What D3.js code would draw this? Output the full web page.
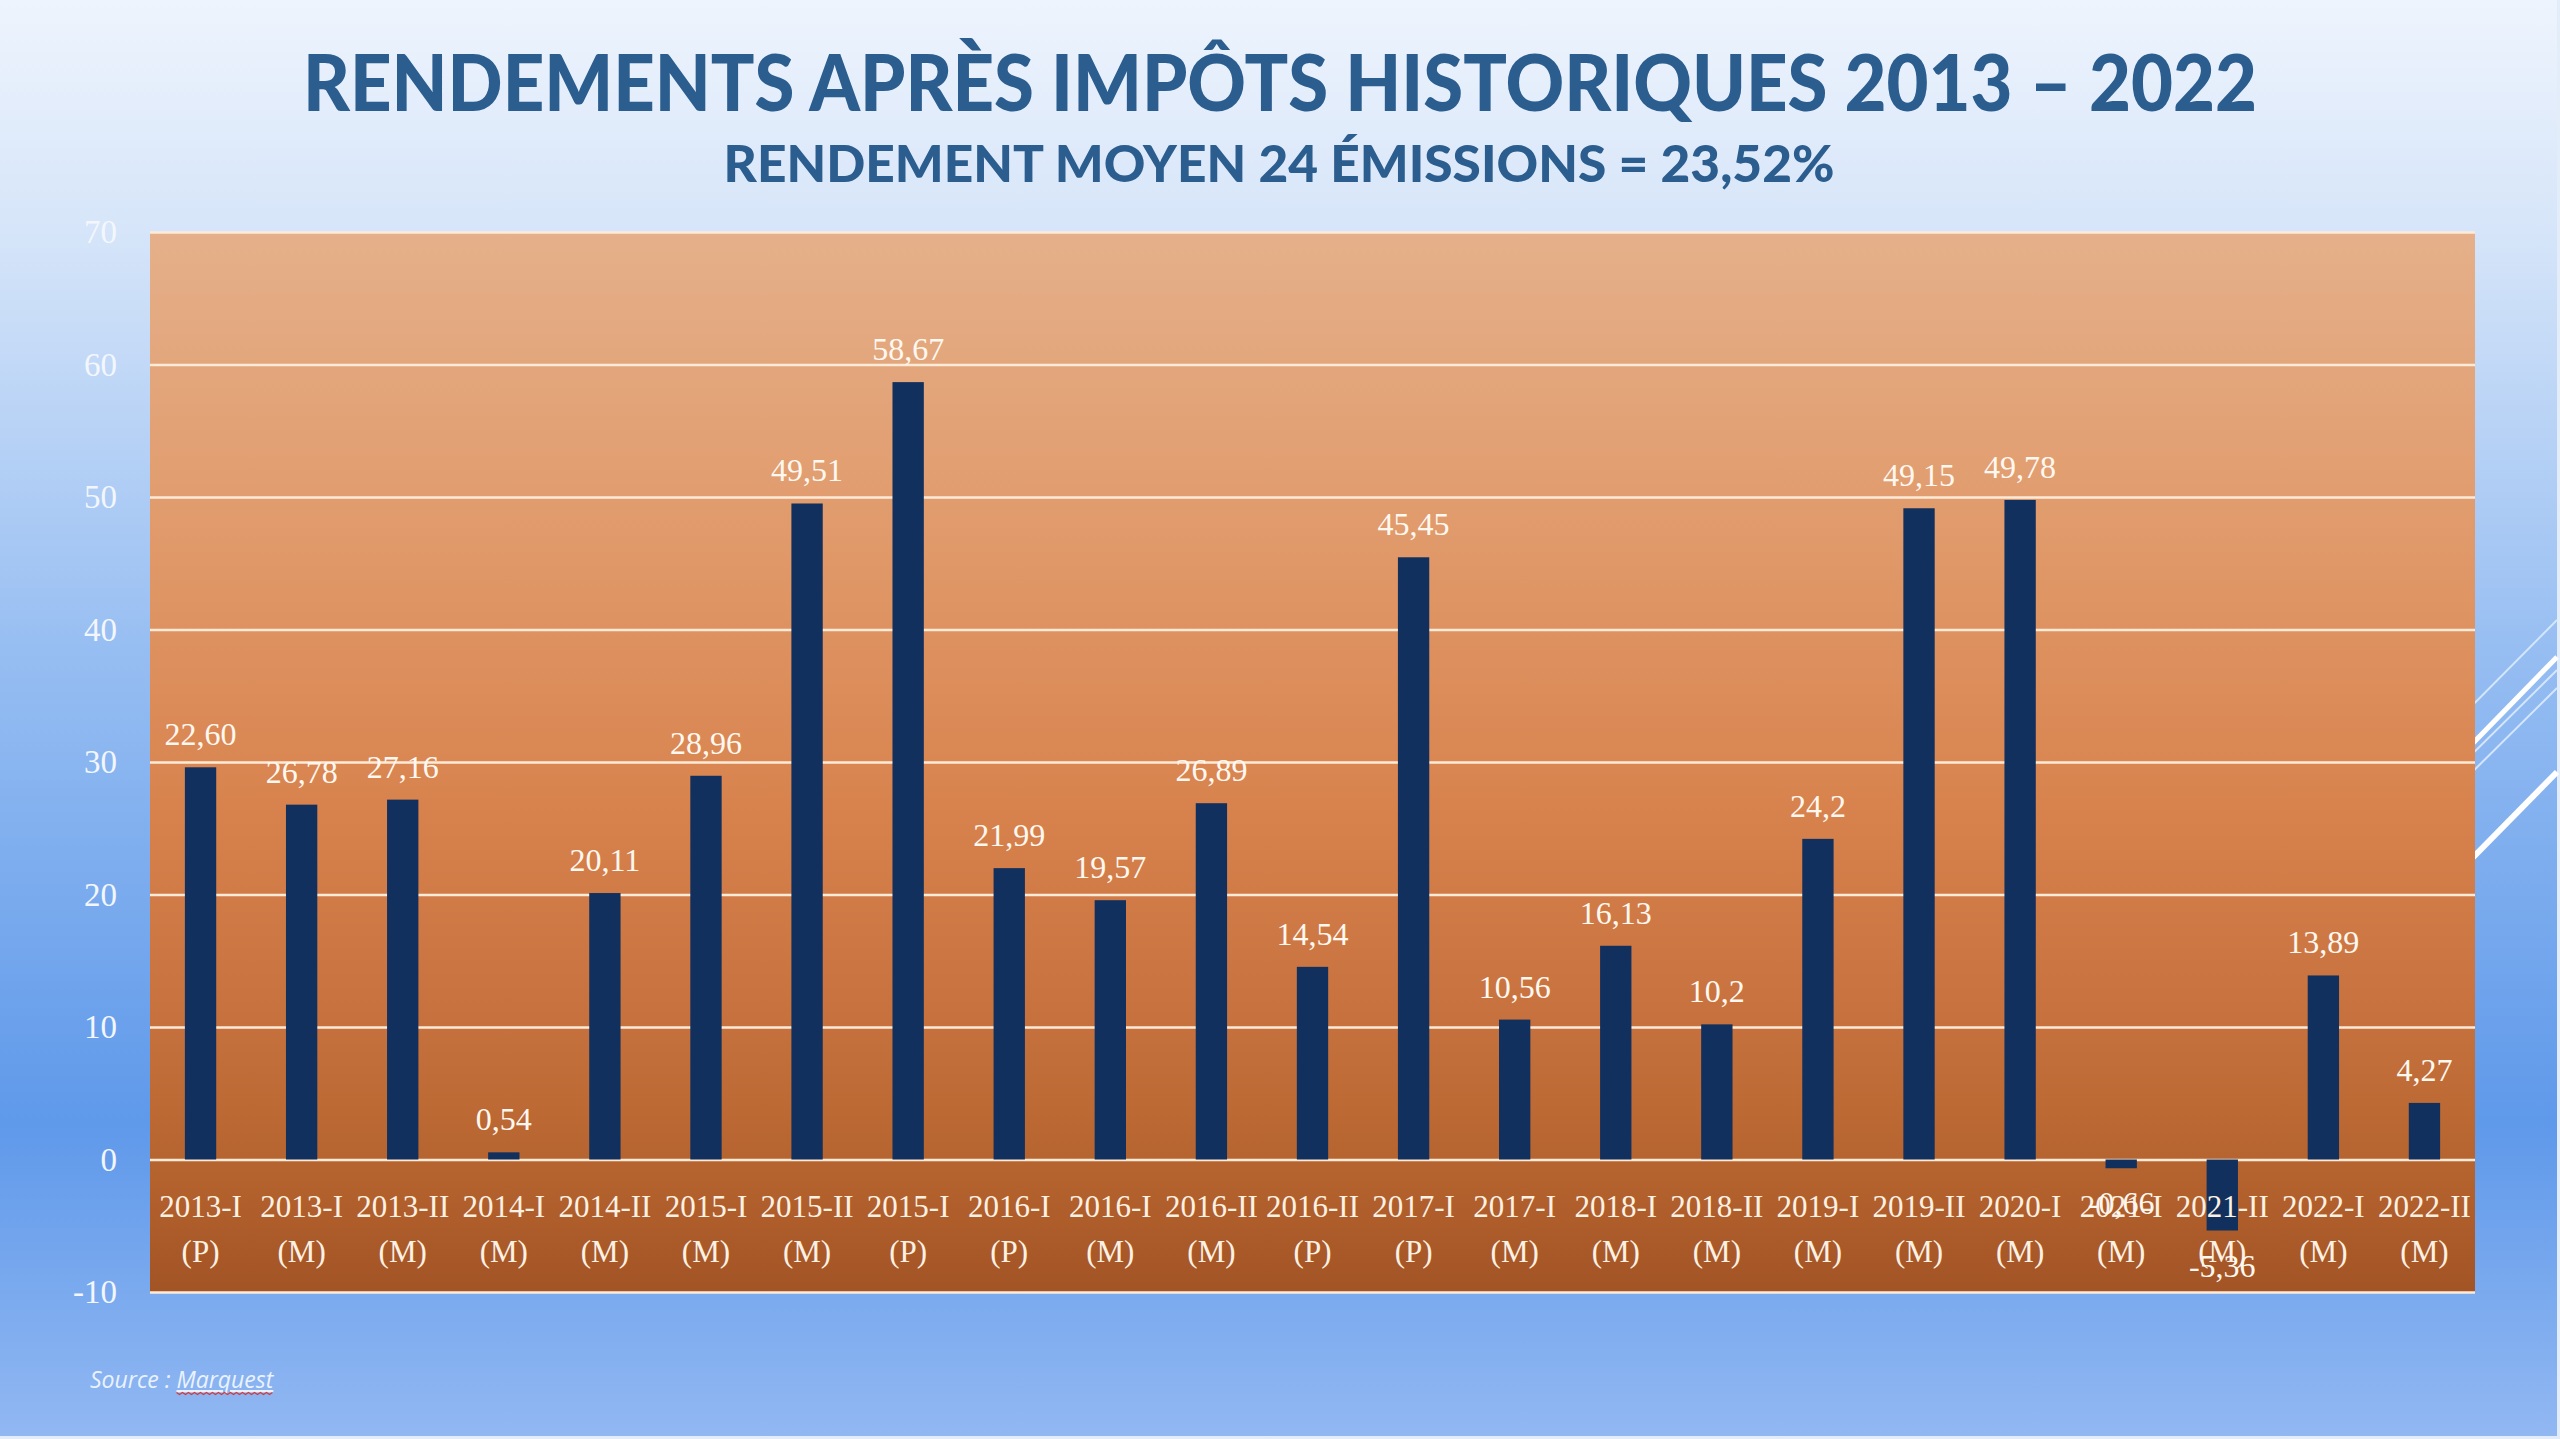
<!DOCTYPE html>
<html>
<head>
<meta charset="utf-8">
<script src="https://cdn.jsdelivr.net/npm/d3@7"></script>
<style>
  body { margin: 0; overflow: hidden; }
  svg { display: block; }
</style>
</head>
<body>
<script>

// ===== DATA =====
const issues = ["2013-I", "2013-I", "2013-II", "2014-I", "2014-II", "2015-I", "2015-II", "2015-I",
    "2016-I", "2016-I", "2016-II", "2016-II", "2017-I", "2017-I", "2018-I", "2018-II",
    "2019-I", "2019-II", "2020-I", "2021-I", "2021-II", "2022-I", "2022-II"];
const issueTypes = ["(P)", "(M)", "(M)", "(M)", "(M)", "(M)", "(M)", "(P)",
    "(P)", "(M)", "(M)", "(P)", "(P)", "(M)", "(M)", "(M)",
    "(M)", "(M)", "(M)", "(M)", "(M)", "(M)", "(M)"];
// bar heights as drawn in the picture
const returns = [29.6, 26.78, 27.16, 0.54, 20.11, 28.96, 49.51, 58.67,
    21.99, 19.57, 26.89, 14.54, 45.45, 10.56, 16.13, 10.2,
    24.2, 49.15, 49.78, -0.66, -5.36, 13.89, 4.27];
// data labels as printed above / below the bars
const returnLabels = ["22,60", "26,78", "27,16", "0,54", "20,11", "28,96", "49,51", "58,67",
    "21,99", "19,57", "26,89", "14,54", "45,45", "10,56", "16,13", "10,2",
    "24,2", "49,15", "49,78", "-0,66", "-5,36", "13,89", "4,27"];
const yTicks = [-10, 0, 10, 20, 30, 40, 50, 60, 70];

const titleText = "RENDEMENTS APRÈS IMPÔTS HISTORIQUES 2013 – 2022";
const subtitleText = "RENDEMENT MOYEN 24 ÉMISSIONS = 23,52%";

// ===== LAYOUT =====
const outerWidth = 2560, outerHeight = 1439;
const plotLeft = 150, plotRight = 2475, plotTop = 232, plotBottom = 1292;

const svg = d3.select("body")
    .append("svg")
    .attr("width", outerWidth)
    .attr("height", outerHeight);

const defs = svg.append("defs");

// slide background gradient
const bg = defs.append("linearGradient")
    .attr("id", "bgGrad")
    .attr("x1", 0).attr("y1", 0).attr("x2", 0).attr("y2", 1);
[[0, "#eef4fd"], [0.16, "#d6e5f9"], [0.45, "#97bef2"], [0.78, "#5f99ea"], [1, "#92b8f2"]]
    .forEach(s => bg.append("stop").attr("offset", s[0]).attr("stop-color", s[1]));

// plot area gradient
const pg = defs.append("linearGradient")
    .attr("id", "plotGrad")
    .attr("x1", 0).attr("y1", 0).attr("x2", 0).attr("y2", 1);
[[0, "#e5b08a"], [0.31, "#e09868"], [0.54, "#d8834e"], [0.73, "#c8733f"], [0.88, "#b6642f"], [1, "#a35425"]]
    .forEach(s => pg.append("stop").attr("offset", s[0]).attr("stop-color", s[1]));

svg.append("rect")
    .attr("width", outerWidth)
    .attr("height", outerHeight)
    .attr("fill", "url(#bgGrad)");

// thin pale frame at right and bottom edge of the slide
svg.append("rect").attr("x", outerWidth - 3).attr("y", 0).attr("width", 3).attr("height", outerHeight).attr("fill", "#e3edfa");
svg.append("rect").attr("x", 0).attr("y", outerHeight - 3).attr("width", outerWidth).attr("height", 3).attr("fill", "#e3edfa");

// decorative diagonal strokes on the right
const deco = [
    { x1: 2440, y1: 738, x2: 2557, y2: 620, w: 2, c: "#d4e6fb" },
    { x1: 2440, y1: 777, x2: 2557, y2: 657, w: 5, c: "#ffffff" },
    { x1: 2440, y1: 786, x2: 2557, y2: 670, w: 2, c: "#d4e6fb" },
    { x1: 2440, y1: 804, x2: 2557, y2: 688, w: 2, c: "#d4e6fb" },
    { x1: 2440, y1: 891, x2: 2557, y2: 772, w: 6, c: "#ffffff" }
];
svg.selectAll(".deco")
    .data(deco)
    .enter()
    .append("line")
    .attr("class", "deco")
    .attr("x1", d => d.x1).attr("y1", d => d.y1)
    .attr("x2", d => d.x2).attr("y2", d => d.y2)
    .attr("stroke", d => d.c)
    .attr("stroke-width", d => d.w);

// ===== SCALES =====
const x = d3.scaleBand()
    .domain(d3.range(issues.length))
    .range([plotLeft, plotRight])
    .paddingInner(0.69)
    .paddingOuter(0.345);

const y = d3.scaleLinear()
    .domain([-10, 70])
    .range([plotBottom, plotTop]);

// plot area
svg.append("rect")
    .attr("x", plotLeft)
    .attr("y", plotTop)
    .attr("width", plotRight - plotLeft)
    .attr("height", plotBottom - plotTop)
    .attr("fill", "url(#plotGrad)");

// gridlines
svg.append("g")
    .attr("transform", `translate(${plotLeft}, 0)`)
    .call(d3.axisLeft(y).tickValues(yTicks).tickSize(-(plotRight - plotLeft)).tickFormat(""))
    .call(g => g.select(".domain").remove())
    .call(g => g.selectAll("line").attr("stroke", "#fdebd8").attr("stroke-width", 2.5));

// y axis labels (plain hyphen for negatives, as on the slide)
svg.append("g")
    .attr("transform", `translate(${plotLeft - 33}, 0)`)
    .call(d3.axisLeft(y).tickValues(yTicks).tickSize(0).tickPadding(0).tickFormat(d => String(d)))
    .call(g => g.select(".domain").remove())
    .call(g => g.selectAll("text")
        .attr("fill", "#f3f7fd")
        .style("font-family", "'Liberation Serif', serif")
        .style("font-size", "33px"));

// bars
svg.selectAll(".bar")
    .data(returns)
    .enter()
    .append("rect")
    .attr("class", "bar")
    .attr("x", (d, i) => x(i))
    .attr("y", d => y(Math.max(0, d)))
    .attr("width", x.bandwidth())
    .attr("height", d => Math.abs(y(d) - y(0)))
    .attr("fill", "#11305e");

// category labels (two lines)
const xAxis = svg.append("g")
    .attr("transform", `translate(0, ${y(0)})`)
    .call(d3.axisBottom(x).tickSize(0).tickFormat(""))
    .call(g => g.select(".domain").remove());

xAxis.selectAll(".tick text").remove();
xAxis.selectAll(".tick")
    .append("text")
    .attr("text-anchor", "middle")
    .attr("fill", "#fdf1e3")
    .style("font-family", "'Liberation Serif', serif")
    .style("font-size", "31px")
    .each(function(d) {
        const t = d3.select(this);
        t.append("tspan").attr("x", 0).attr("y", 57).text(issues[d]);
        t.append("tspan").attr("x", 0).attr("y", 102).text(issueTypes[d]);
    });

// value labels
svg.selectAll(".valLabel")
    .data(returns)
    .enter()
    .append("text")
    .attr("class", "valLabel")
    .attr("x", (d, i) => x(i) + x.bandwidth() / 2)
    .attr("y", d => d >= 0 ? y(d) - 22 : y(d) + 46)
    .attr("text-anchor", "middle")
    .attr("fill", "#fff8f0")
    .style("font-family", "'Liberation Serif', serif")
    .style("font-size", "32px")
    .text((d, i) => returnLabels[i]);

// ===== TITLES =====
svg.append("text")
    .attr("x", 1280)
    .attr("y", 111)
    .attr("text-anchor", "middle")
    .attr("fill", "#2b5d8f")
    .attr("textLength", 1954)
    .attr("lengthAdjust", "spacingAndGlyphs")
    .style("font-family", "Lato, 'Open Sans', sans-serif")
    .style("font-weight", "900")
    .style("font-size", "78px")
    .text(titleText);

svg.append("text")
    .attr("x", 1279)
    .attr("y", 182)
    .attr("text-anchor", "middle")
    .attr("fill", "#2b5d8f")
    .attr("textLength", 1111)
    .attr("lengthAdjust", "spacingAndGlyphs")
    .style("font-family", "Lato, 'Open Sans', sans-serif")
    .style("font-weight", "900")
    .style("font-size", "51px")
    .text(subtitleText);

// source note
const src = svg.append("text")
    .attr("x", 90)
    .attr("y", 1388)
    .attr("fill", "#eaf2fd")
    .style("font-family", "'Open Sans', sans-serif")
    .style("font-style", "italic")
    .style("font-size", "23px");
src.append("tspan").text("Source : ");
src.append("tspan").attr("id", "srcName").attr("text-decoration", "underline").text("Marquest");

// red spell-check squiggle under the source name
const nameBox = document.getElementById("srcName").getBBox();
const squiggle = d3.range(nameBox.x, nameBox.x + nameBox.width, 3)
    .map((px, i) => [px, 1393 + (i % 2 ? 1.5 : -0.5)]);
svg.append("path")
    .attr("d", d3.line()(squiggle))
    .attr("fill", "none")
    .attr("stroke", "#d23a3a")
    .attr("stroke-width", 1.2);

</script>
</body>
</html>
